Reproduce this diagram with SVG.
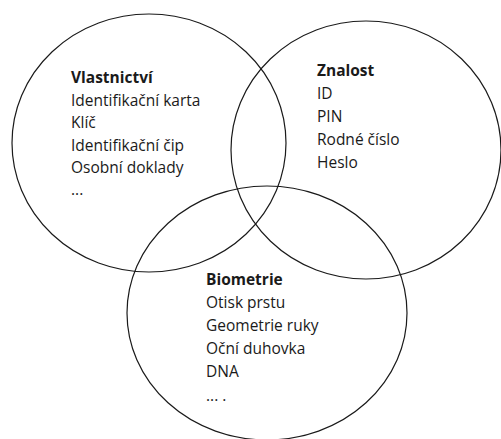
<svg xmlns="http://www.w3.org/2000/svg" width="501" height="439" viewBox="0 0 501 439">
<style>
.c{fill:none;stroke:#1a1a1a;stroke-width:1.2}
text{font-family:"Open Sans","Liberation Sans",sans-serif;font-size:15.5px;fill:#1a1a1a}
.h{font-weight:bold}
</style>
<rect width="501" height="439" fill="#fff"/>
<g id="vlastnictvi">
<ellipse class="c" cx="149" cy="143" rx="137" ry="129"/>
<text x="71" y="83" class="h">Vlastnictví</text>
<text x="71" y="105.5">Identifikační karta</text>
<text x="71" y="128">Klíč</text>
<text x="71" y="150.5">Identifikační čip</text>
<text x="71" y="173">Osobní doklady</text>
<text x="71" y="195">...</text>
</g>
<g id="znalost">
<ellipse class="c" cx="366" cy="150" rx="135" ry="129"/>
<text x="317" y="76" class="h">Znalost</text>
<text x="317" y="99">ID</text>
<text x="317" y="122">PIN</text>
<text x="317" y="145">Rodné číslo</text>
<text x="317" y="168">Heslo</text>
</g>
<g id="biometrie">
<ellipse class="c" cx="267" cy="313" rx="140" ry="127"/>
<text x="206" y="285" class="h">Biometrie</text>
<text x="206" y="308">Otisk prstu</text>
<text x="206" y="331">Geometrie ruky</text>
<text x="206" y="354">Oční duhovka</text>
<text x="206" y="377">DNA</text>
<text x="206" y="401">... .</text>
</g>
<g id="connectors"></g>
</svg>
